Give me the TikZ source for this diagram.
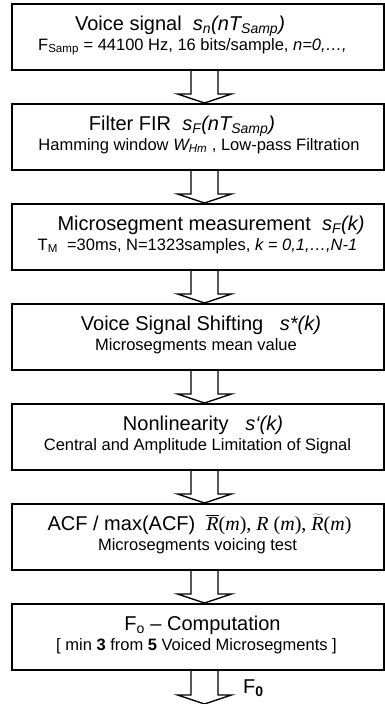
\documentclass[tikz,border=0pt]{standalone}
\usepackage{fontspec}
\setmainfont{Liberation Sans}
\newfontfamily\timesfont{Liberation Serif}
\usetikzlibrary{calc}

% sizes in px-like points
\newcommand\titlesize{\fontsize{20}{23}\selectfont}
\newcommand\subsize{\fontsize{16.5}{19}\selectfont}
\newcommand\sub[1]{\textsubscript{#1}}

\tikzset{
  stage/.style={draw=black, line width=2pt, minimum width=372pt, minimum height=66pt,
                inner sep=0pt, anchor=north west},
  headline/.style={anchor=base, inner sep=0pt, font=\titlesize},
  subline/.style={anchor=base, inner sep=0pt, font=\subsize},
  hollow/.style={draw=black, line width=1.3pt, line join=miter, fill=white}
}

% hollow block arrow between two named coordinates (start, tip)
\newcommand\blockarrow[2]{%
  \draw[hollow] let \p1=(#1), \p2=(#2) in
    (\x1-13.5,\y1) -- (\x1-13.5,\y2+9) -- (\x1-27,\y2+9) -- (\x1,\y2)
    -- (\x1+27,\y2+9) -- (\x1+13.5,\y2+9) -- (\x1+13.5,\y1);}

\begin{document}
\begin{tikzpicture}[x=1pt,y=-1pt]
\useasboundingbox (0,0) rectangle (384,704);

% stages
\foreach \k in {1,...,7}{
  \node[stage] (b\k) at (11,{3+100*(\k-1)}) {};
}

% texts
\node[headline] (t1a) at (180,30) {Voice signal\ \ \textit{s\sub{n}(nT\sub{Samp})}};
\node[subline] (t1b) at (192.5,50) {F\sub{Samp} = 44100 Hz, 16 bits/sample, \textit{n=0,\dots,}};

\node[headline] (t2a) at (182,130) {Filter FIR\ \ \textit{s\sub{F}(nT\sub{Samp})}};
\node[subline] (t2b) at (199,150) {Hamming window \textit{W\sub{Hm}} , Low-pass Filtration};

\node[headline] (t3a) at (211,230) {Microsegment measurement\ \ \textit{s\sub{F}(k)}};
\node[subline] (t3b) at (197.5,250) {T\sub{M}\ \ =30ms, N=1323samples, \textit{k = 0,1,\dots,N-1}};

\node[headline] (t4a) at (201,330) {Voice Signal Shifting\ \ \ \textit{s*(k)}};
\node[subline] (t4b) at (196,350) {Microsegments mean value};

\node[headline] (t5a) at (203,430) {Nonlinearity\ \ \ \textit{s‘(k)}};
\node[subline] (t5b) at (197.5,450) {Central and Amplitude Limitation of Signal};

\node[headline] (t6a) at (199.5,530) {ACF / max(ACF)\ \ {\timesfont$\overline{\hbox{\itshape R}}$(\textit{m}), \textit{R} (\textit{m}), $\widetilde{\hbox{\itshape R}}$(\textit{m})}};
\node[subline] (t6b) at (197.5,550) {Microsegments voicing test};

\node[headline] (t7a) at (202.5,630) {F\sub{o} – Computation};
\node[subline] (t7b) at (196.5,650) {[ min \textbf{3} from \textbf{5} Voiced Microsegments ]};

% connectors
\foreach \k [evaluate=\k as \nx using int(\k+1)] in {1,...,6}{
  \coordinate (s\k) at ($(b\k.south)+(6.5,0)$);
  \coordinate (e\k) at ($(b\nx.north)+(6.5,0)$);
  \blockarrow{s\k}{e\k}
}
\coordinate (s7) at ($(b7.south)+(6.5,0)$);
\coordinate (out) at ($(b7.south)+(6.5,33)$);
\blockarrow{s7}{out}
\node[anchor=base west, inner sep=0pt, font=\titlesize] (f0) at (243,693) {F\textsubscript{\textbf{0}}};
\end{tikzpicture}
\end{document}
